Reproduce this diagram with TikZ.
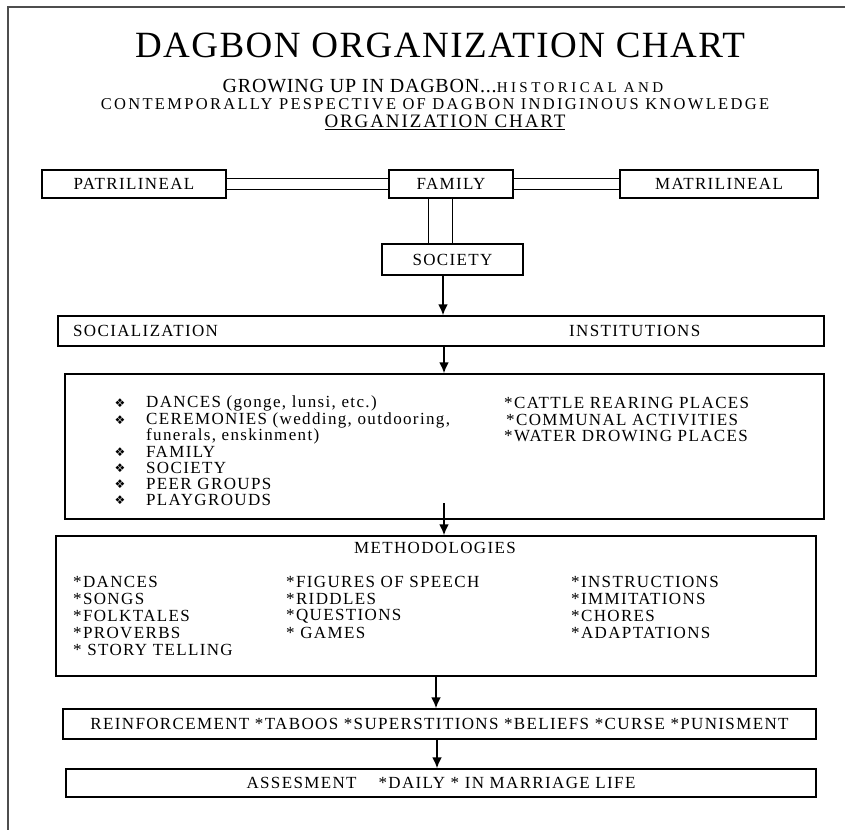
\documentclass[tikz,border=0pt]{standalone}
\usepackage{fontspec}
\setmainfont{Liberation Serif}
\newfontfamily\bodyfont{Liberation Serif}[LetterSpace=8]
\newfontfamily\symfont{DejaVu Sans}
\usetikzlibrary{arrows.meta}

\definecolor{framegray}{HTML}{4D4D4D}

\begin{document}
\begin{tikzpicture}[x=1pt,y=-1pt,
    box/.style={draw, line width=1.4pt, inner sep=0pt},
    flow/.style={-{Latex[length=11pt,width=10pt]}, line width=2pt},
    link/.style={line width=1pt},
    item/.style={anchor=west, inner sep=0pt, font=\bodyfont\fontsize{17}{18}\selectfont},
    bul/.style={anchor=center, inner sep=0pt, font=\symfont\fontsize{12}{14}\selectfont}]
      \useasboundingbox (0,0) rectangle (845,830);

      % Page frame
      \draw[framegray, line width=2.5pt] (845,7) -- (8,7) -- (8,830);

      % Headings
      \node (title) at (440,45) {\addfontfeature{LetterSpace=4}\fontsize{37}{40}\selectfont DAGBON ORGANIZATION CHART};
      \node[inner sep=0pt] (sub1) at (443,86) {\addfontfeature{LetterSpace=4}\fontsize{20}{21}\selectfont GROWING UP IN DAGBON...{\addfontfeature{LetterSpace=23}\fontsize{15}{16}\selectfont HISTORICAL AND}};
      \node[inner sep=0pt] (sub2) at (435,104) {\addfontfeature{LetterSpace=14}\fontsize{16.5}{17}\selectfont CONTEMPORALLY PESPECTIVE OF DAGBON INDIGINOUS KNOWLEDGE};
      \node[inner sep=0pt] (sub3) at (445,122) {\addfontfeature{LetterSpace=10}\fontsize{19}{20}\selectfont \underline{ORGANIZATION CHART}};

      % Family row
      \node[box, minimum width=184pt, minimum height=28pt, font=\bodyfont\fontsize{17}{18}\selectfont] (patri) at (134,184) {PATRILINEAL};
      \node[box, minimum width=124pt, minimum height=28pt, font=\bodyfont\fontsize{17}{18}\selectfont] (family) at (451,184) {FAMILY};
      \node[box, minimum width=198pt, minimum height=28pt, font=\bodyfont\fontsize{17}{18}\selectfont] (matri) at (719,184) {MATRILINEAL};
      \node[box, minimum width=141pt, minimum height=31pt, font=\bodyfont\fontsize{17}{18}\selectfont] (society) at (452.5,259.5) {SOCIETY};

      % Double links
      \draw[link, double distance=10pt] (patri.east) -- (family.west);
      \draw[link, double distance=10pt] (family.east) -- (matri.west);
      \draw[link, double distance=23pt] ([xshift=-11pt]family.south) -- ([xshift=-11pt]family.south |- society.north);

      % Socialization
      \node[box, minimum width=766pt, minimum height=30pt] (social) at (441,331) {};
      \node[item] (socl) at (73,331) {SOCIALIZATION};
      \node[item] (inst) at (569,331) {INSTITUTIONS};
      \draw[flow] ([xshift=-9.5pt]society.south) -- ([xshift=-9.5pt]society.south |- social.north);

      % Institutions box
      \node[box, minimum width=759pt, minimum height=145pt] (places) at (444.5,446.5) {};
      \foreach \yy/\txt [count=\i] in {403/{DANCES (gonge, lunsi, etc.)}, 420/{CEREMONIES (wedding, outdooring,}, 452/FAMILY, 468/SOCIETY, 484/{PEER GROUPS}, 500/PLAYGROUDS} {
        \node[bul] (dot\i) at (120,\yy) {❖};
        \node[item] (inst\i) at (146,\yy) {\txt};
      }
      \node[item] (inst2b) at (146,436) {funerals, enskinment)};
      \node[item] (site1) at (504,403) {*CATTLE REARING PLACES};
      \node[item] (site2) at (506,420) {*COMMUNAL ACTIVITIES};
      \node[item] (site3) at (504,436) {*WATER DROWING PLACES};
      \draw[flow] ([xshift=3pt]social.south) -- ([xshift=3pt]social.south |- places.north);

      % Methodologies box
      \node[box, minimum width=760pt, minimum height=140pt] (method) at (436,606) {};
      \node[inner sep=0pt, font=\bodyfont\fontsize{17}{18}\selectfont] (mtitle) at (435,548) {METHODOLOGIES};
      \foreach \yy/\txt [count=\i] in {582/*DANCES, 599/*SONGS, 616/*FOLKTALES, 633/*PROVERBS, 650/{* STORY TELLING}}
        \node[item] (ma\i) at (73,\yy) {\txt};
      \foreach \yy/\txt [count=\i] in {582/{*FIGURES OF SPEECH}, 599/*RIDDLES, 616/*QUESTIONS, 633/{* GAMES}}
        \node[item] (mb\i) at (286,\yy) {\txt};
      \foreach \yy/\txt [count=\i] in {582/*INSTRUCTIONS, 599/*IMMITATIONS, 616/*CHORES, 633/*ADAPTATIONS}
        \node[item] (mc\i) at (571,\yy) {\txt};
      \coordinate (pl) at (444,503);
      \draw[flow] (pl) -- (pl |- method.north);

      % Reinforcement and assessment
      \node[box, minimum width=753pt, minimum height=30pt, font=\bodyfont\fontsize{17}{18}\selectfont] (reinf) at (439.5,724) {REINFORCEMENT *TABOOS *SUPERSTITIONS *BELIEFS *CURSE *PUNISMENT};
      \node[box, minimum width=750pt, minimum height=28pt, font=\bodyfont\fontsize{17}{18}\selectfont] (assess) at (441,783) {ASSESMENT\hspace{22pt}*DAILY * IN MARRIAGE LIFE};
      \draw[flow] (method.south) -- (method.south |- reinf.north);
      \draw[flow] ([xshift=-2.5pt]reinf.south) -- ([xshift=-2.5pt]reinf.south |- assess.north);
\end{tikzpicture}
\end{document}
